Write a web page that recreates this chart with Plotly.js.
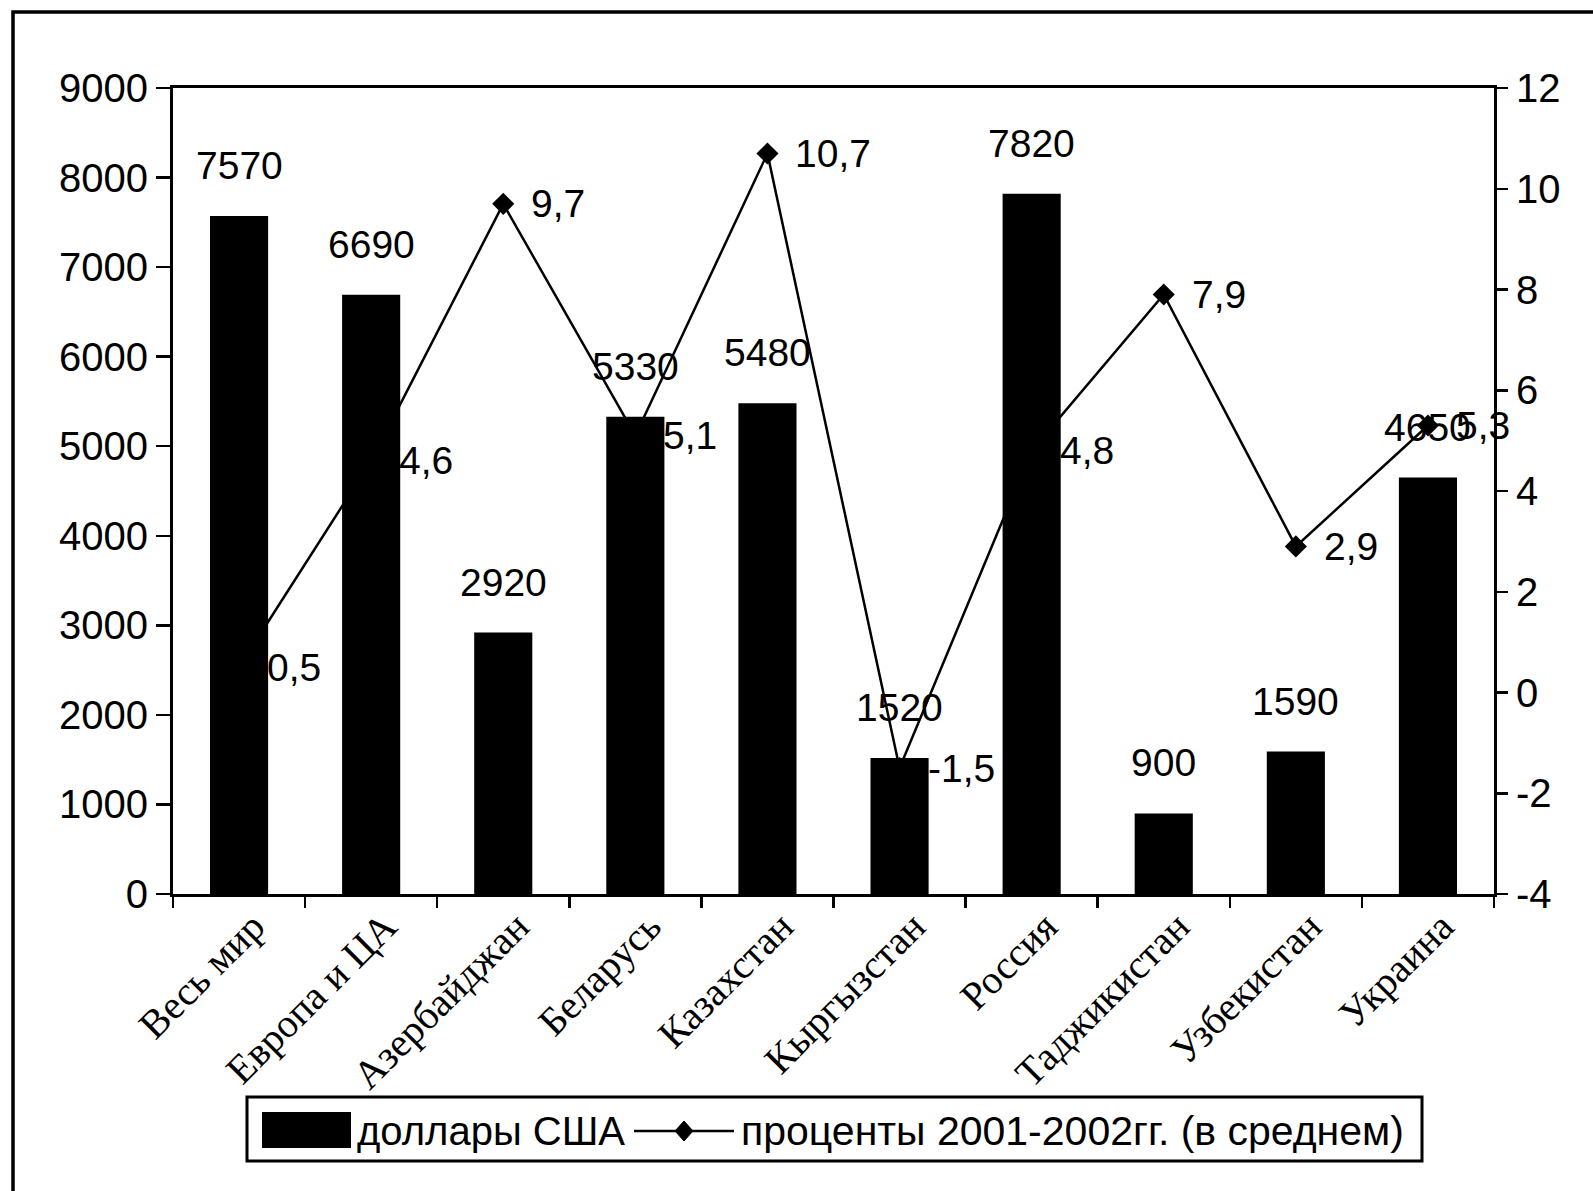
<!DOCTYPE html>
<html>
<head>
<meta charset="utf-8">
<script src="https://cdn.plot.ly/plotly-3.0.1.min.js"></script>
<style>html,body{margin:0;padding:0;background:#fff;}#chart{width:1593px;height:1191px;}</style>
</head>
<body>
<div id="chart"></div>
<script>
const categories = ['Весь мир','Европа и ЦА','Азербайджан','Беларусь','Казахстан','Кыргызстан','Россия','Таджикистан','Узбекистан','Украина'];
const usd = [7570, 6690, 2920, 5330, 5480, 1520, 7820, 900, 1590, 4650];
const pct = [0.5, 4.6, 9.7, 5.1, 10.7, -1.5, 4.8, 7.9, 2.9, 5.3];
const leftTicks = [0,1000,2000,3000,4000,5000,6000,7000,8000,9000];
const rightTicks = [-4,-2,0,2,4,6,8,10,12];
const rightTickText = ['-4','-2','0','2','4','6','8','10','12'];
const boundaries = [-0.5,0.5,1.5,2.5,3.5,4.5,5.5,6.5,7.5,8.5,9.5];
const seriesNames = ['доллары США', 'проценты 2001-2002гг. (в среднем)'];

const FONT = 'Liberation Sans, Arial, sans-serif';
const SERIF = 'Liberation Serif, Times New Roman, serif';
const W = 1593, H = 1191;
const L = 173, R = 1494, T = 88, B = 894;
const px = x => (x - L) / (R - L);
const py = y => (B - y) / (B - T);

const traces = [
  {
    type: 'scatter', mode: 'lines+markers', name: seriesNames[1],
    x: categories, y: pct, xaxis: 'x', yaxis: 'y',
    line: {color: '#000', width: 2.5},
    marker: {symbol: 'diamond', size: 17, color: '#000'},
    hoverinfo: 'skip', showlegend: false
  },
  {
    type: 'bar', name: seriesNames[0],
    x: categories, y: usd, xaxis: 'x', yaxis: 'y2',
    marker: {color: '#000', line: {width: 0}},
    width: 0.44, hoverinfo: 'skip', showlegend: false
  }
];

const annotations = [];
categories.forEach((c, i) => {
  annotations.push({
    x: c, y: usd[i], xref: 'x', yref: 'y2', text: String(usd[i]),
    showarrow: false, xanchor: 'center', yanchor: 'bottom', yshift: 27,
    font: {family: FONT, size: 39, color: '#000'}
  });
  annotations.push({
    x: c, y: pct[i], xref: 'x', yref: 'y', text: String(pct[i]).replace('.', ','),
    showarrow: false, xanchor: 'left', yanchor: 'middle', xshift: 26,
    font: {family: FONT, size: 39, color: '#000'}
  });
});
// legend texts
annotations.push({x: px(355), y: py(1131), xref: 'paper', yref: 'paper', text: seriesNames[0],
  showarrow: false, xanchor: 'left', yanchor: 'middle', font: {family: FONT, size: 40, color: '#000'}});
annotations.push({x: px(739), y: py(1131), xref: 'paper', yref: 'paper', text: seriesNames[1],
  showarrow: false, xanchor: 'left', yanchor: 'middle', font: {family: FONT, size: 41, color: '#000'}});

const shapes = [
  // outer frame
  {type: 'rect', xref: 'paper', yref: 'paper', x0: px(13), x1: px(1620), y0: py(1230), y1: py(12),
   line: {color: '#000', width: 3.5}, fillcolor: 'rgba(0,0,0,0)', layer: 'below'},
  // legend box
  {type: 'rect', xref: 'paper', yref: 'paper', x0: px(247), x1: px(1422), y0: py(1161), y1: py(1097),
   line: {color: '#000', width: 3}, fillcolor: '#fff'},
  // legend bar swatch
  {type: 'rect', xref: 'paper', yref: 'paper', x0: px(262), x1: px(351), y0: py(1148), y1: py(1112),
   line: {width: 0}, fillcolor: '#000'},
  // legend line swatch
  {type: 'line', xref: 'paper', yref: 'paper', x0: px(634), x1: px(734), y0: py(1131), y1: py(1131),
   line: {color: '#000', width: 2.5}},
  // legend diamond
  {type: 'path', xref: 'paper', yref: 'paper', xsizemode: 'pixel', ysizemode: 'pixel',
   xanchor: px(684), yanchor: py(1131), path: 'M0,10 L9,0 L0,-10 L-9,0 Z',
   fillcolor: '#000', line: {color: '#000', width: 1}}
];

const tickFont = {family: FONT, size: 40, color: '#000'};

const layout = {
  width: W, height: H,
  margin: {l: L, r: W - R, t: T, b: H - B, pad: 0},
  paper_bgcolor: '#fff', plot_bgcolor: 'rgba(0,0,0,0)',
  showlegend: false,
  xaxis: {
    type: 'category', categoryarray: categories, range: [-0.5, 9.5],
    showline: true, linecolor: '#000', linewidth: 3, mirror: true,
    ticks: 'outside', tickson: 'boundaries', ticklen: 11, tickwidth: 2.5, tickcolor: '#000',
    tickangle: -45, tickfont: {family: SERIF, size: 40, color: '#000'},
    showgrid: false, zeroline: false, ticklabelstandoff: -10, ticklabelshift: 14
  },
  xaxis2: {
    overlaying: 'x', anchor: 'y', side: 'bottom', range: [-0.5, 9.5],
    tickmode: 'array', tickvals: boundaries, ticks: 'inside', ticklen: 9, tickwidth: 2.5, tickcolor: '#000',
    showticklabels: false, showgrid: false, zeroline: false, showline: false
  },
  yaxis: {
    side: 'right', range: [-4, 12], tickmode: 'array', tickvals: rightTicks, ticktext: rightTickText,
    showline: true, linecolor: '#000', linewidth: 3,
    ticks: 'outside', ticklen: 11, tickwidth: 2.5, tickcolor: '#000',
    tickfont: tickFont, showgrid: false, zeroline: false, ticklabelstandoff: 0
  },
  yaxis2: {
    overlaying: 'y', side: 'left', anchor: 'x', range: [0, 9000], tickmode: 'array', tickvals: leftTicks,
    showline: true, linecolor: '#000', linewidth: 3,
    ticks: 'outside', ticklen: 14, tickwidth: 2.5, tickcolor: '#000',
    tickfont: tickFont, showgrid: false, zeroline: false, ticklabelstandoff: 0
  },
  yaxis3: {
    overlaying: 'y', side: 'left', anchor: 'x', range: [0, 9000], tickmode: 'array', tickvals: leftTicks,
    ticks: 'inside', ticklen: 8, tickwidth: 2.5, tickcolor: '#000',
    showticklabels: false, showgrid: false, zeroline: false, showline: false
  },
  yaxis4: {
    overlaying: 'y', side: 'right', anchor: 'x', range: [-4, 12], tickmode: 'array', tickvals: rightTicks,
    ticks: 'inside', ticklen: 10, tickwidth: 2.5, tickcolor: '#000',
    showticklabels: false, showgrid: false, zeroline: false, showline: false
  },
  annotations: annotations,
  shapes: shapes
};

Plotly.newPlot('chart', traces, layout, {staticPlot: true, displayModeBar: false});
</script>
</body>
</html>
